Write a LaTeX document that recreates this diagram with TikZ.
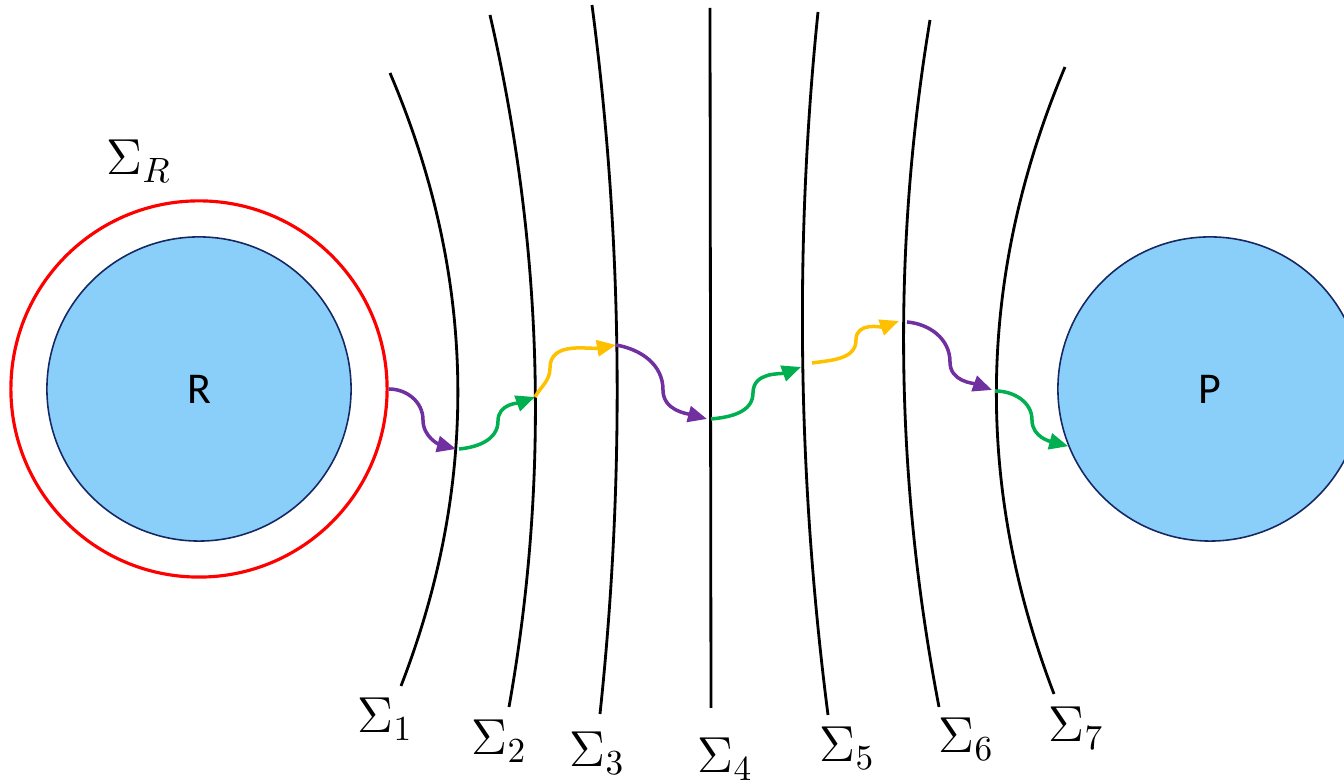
\documentclass[tikz,border=0pt]{standalone}
\usepackage{fontspec}
\newfontfamily\ballfont{Carlito}
\usepackage{xcolor}
\definecolor{rpblue}{RGB}{137,207,250}
\definecolor{rpnavy}{RGB}{22,40,100}
\definecolor{rpred}{RGB}{255,0,0}
\definecolor{rppurple}{RGB}{112,48,160}
\definecolor{rpgreen}{RGB}{0,176,80}
\definecolor{rpyellow}{RGB}{255,192,0}
\usetikzlibrary{arrows.meta,positioning,calc}
\tikzset{
  ball/.style={draw=rpnavy, line width=0.45pt, fill=rpblue, circle, inner sep=0pt,
               minimum size=3.04cm, font=\ballfont\fontsize{12.5}{15}\selectfont},
  ring/.style={draw=rpred, line width=0.9pt, circle, inner sep=0pt, minimum size=3.76cm},
  surface/.style={draw=black, line width=0.8pt},
  surflabel/.style={anchor=base west, inner sep=0pt, font=\fontsize{14.5}{17}\selectfont},
  hop/.style={draw=#1, line width=1pt, -{Triangle[length=0.19cm, width=0.16cm]}},
}

\begin{document}
\begin{tikzpicture}[x=0.01cm, y=0.01cm]
  \useasboundingbox (0,0) rectangle (1344,783);
  \clip (0,0) rectangle (1344,783);

  % Reactant and product
  \node[ring] (ringR) at (199,394) {};
  \node[ball] (R) at (199,394) {R};
  \node[ball] (P) at (1210,394) {P};
  \node[surflabel] (sR) at (106,608) {$\Sigma_R$};

  % Dividing surfaces
  \draw[surface] (390,710) .. controls (477,506) and (480,301) .. (401,97);
  \draw[surface] (490,768) .. controls (543,537) and (550,307) .. (509,76);
  \draw[surface] (592,778) .. controls (623,542) and (625,305) .. (600,69);
  \draw[surface] (710,775) -- (711,75);
  \draw[surface] (818,771) .. controls (794,537) and (798,302) .. (828,68);
  \draw[surface] (930,763) .. controls (892,534) and (895,305) .. (939,76);
  \draw[surface] (1065,716) .. controls (977,507) and (974,298) .. (1054,89);

  % Surface labels
  \node[surflabel] (s1) at (357,50) {$\Sigma_1$};
  \node[surflabel] (s2) at (471,28) {$\Sigma_2$};
  \node[surflabel] (s3) at (569,16) {$\Sigma_3$};
  \node[surflabel] (s4) at (697,10) {$\Sigma_4$};
  \node[surflabel] (s5) at (819,21) {$\Sigma_5$};
  \node[surflabel] (s6) at (938,30) {$\Sigma_6$};
  \node[surflabel] (s7) at (1048,41) {$\Sigma_7$};

  % Crossing points
  \coordinate (c1) at (456,334);
  \coordinate (c2a) at (459,334);
  \coordinate (c2) at (535,386);
  \coordinate (c3) at (616,438);
  \coordinate (c4) at (707,364);
  \coordinate (c5a) at (711,364);
  \coordinate (c5) at (801,416);
  \coordinate (c6a) at (812,420);
  \coordinate (c6) at (899,462);
  \coordinate (c7a) at (907,461);
  \coordinate (c7) at (992,393);
  \coordinate (c8a) at (995,392);

  % Hops
  \draw[hop=rppurple] (ringR.east) to[out=0,in=90] (423,363) to[out=-90,in=165] (c1);
  \draw[hop=rpgreen] (c2a) to[out=5,in=-90] (498,362) to[out=90,in=200] (c2);
  \draw[hop=rpyellow] (c2) to[out=60,in=-90] (550,415) to[out=90,in=190] (c3);
  \draw[hop=rppurple] (c3) to[out=-10,in=90] (663,393) to[out=-90,in=165] (c4);
  \draw[hop=rpgreen] (c5a) to[out=5,in=-90] (753,390) to[out=90,in=200] (c5);
  \draw[hop=rpyellow] (c6a) to[out=8,in=-90] (856,443) to[out=90,in=200] (c6);
  \draw[hop=rppurple] (c7a) to[out=-5,in=90] (950,421) to[out=-90,in=160] (c7);
  \draw[hop=rpgreen] (c8a) to[out=0,in=90] (1032,363) to[out=-90,in=165] (P.202);
\end{tikzpicture}
\end{document}
